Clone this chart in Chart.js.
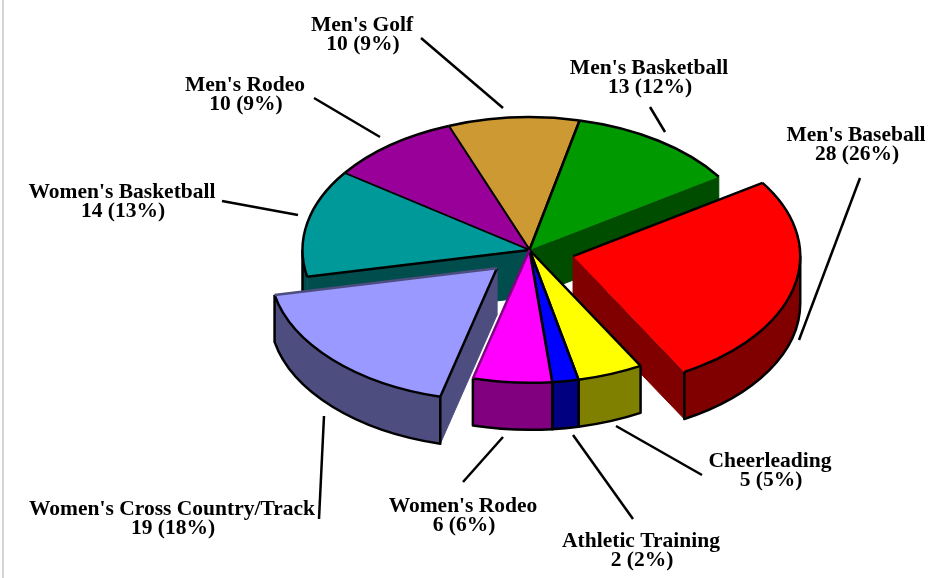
<!DOCTYPE html>
<html>
<head>
<meta charset="utf-8">
<title>Athletes by sport</title>
<script src="https://cdn.jsdelivr.net/npm/chart.js@4"></script>
<style>
body { margin: 0; background: #fff; }
#frame { position: absolute; left: 2px; top: 0; width: 2px; height: 578px; background: #d4d4d4; }
#pie { position: absolute; left: 0; top: 0; display: block; }
</style>
</head>
<body>
<div id="frame"></div>
<canvas id="pie" width="939" height="578"></canvas>
<script>
const categories = ["Men's Baseball", "Cheerleading", "Athletic Training", "Women's Rodeo",
    "Women's Cross Country/Track", "Women's Basketball", "Men's Rodeo", "Men's Golf", "Men's Basketball"];
const athletes = [28, 5, 2, 6, 19, 14, 10, 10, 13];

const topColors = ['#FF0000', '#FFFF00', '#0000FF', '#FF00FF', '#9999FF', '#009999', '#990099', '#CC9933', '#009900'];
const wallColors = ['#800000', '#808000', '#000080', '#800080', '#4D4D80', '#004D4D', '#4D004D', '#664D1A', '#004D00'];

// edge colours of each top face: [first radius, second radius], clockwise
const edgeColors = [['#000', null], ['#000', '#000'], ['#000', '#000'], ['#000', '#800080'], ['#000', '#4D4D80'],
    ['#000', '#000'], ['#000', '#000'], ['#000', '#000'], ['#000', null]];

const total = athletes.reduce((a, b) => a + b, 0);

// pulled out slices, back to front drawing order
const explode = { 0: 45, 4: 45 };
const drawOrder = [7, 6, 8, 5, 0, 4, 1, 2, 3];
const squash = 0.585;
const depth = 47;

// label centre and leader line for each category
const labelLayout = [
    { x: 856, y: 135, line: [860, 178, 799, 340] },
    { x: 770, y: 461, line: [702, 475, 616, 426] },
    { x: 641, y: 541, line: [633, 519, 573, 435] },
    { x: 463, y: 506, line: [463, 482, 503, 437] },
    { x: 172, y: 509, line: [319, 519, 324, 416] },
    { x: 122, y: 192, line: [222, 201, 298, 215] },
    { x: 245, y: 85, line: [314, 98, 380, 137] },
    { x: 362, y: 25, line: [421, 38, 503, 108] },
    { x: 649, y: 68, line: [650, 107, 665, 132] }
];

function wallRange(a0, a1, base) {
    // part of [a0, a1] on the front half of the ellipse, base is 0 or 2 PI
    const from = Math.max(a0, base);
    const to = Math.min(a1, base + Math.PI);
    return to > from ? [from, to] : null;
}

const pie3d = {
    id: 'pie3d',
    beforeDatasetsDraw(chart) {
        const ctx = chart.ctx;
        const arcs = chart.getDatasetMeta(0).data;
        ctx.lineJoin = 'round';
        ctx.lineCap = 'butt';

        drawOrder.forEach(i => {
            const arc = arcs[i];
            const r = arc.outerRadius;
            const mid = (arc.startAngle + arc.endAngle) / 2;
            const off = explode[i] || 0;
            const cx = arc.x + off * Math.cos(mid);
            const cy = arc.y + off * Math.sin(mid) * squash;
            const px = a => cx + r * Math.cos(a);
            const py = a => cy + r * Math.sin(a) * squash;

            // flat sides, only seen where the slice is not covered by its own top
            ctx.fillStyle = wallColors[i];
            ctx.strokeStyle = wallColors[i];
            ctx.lineWidth = 1;
            [arc.startAngle, arc.endAngle].forEach(a => {
                ctx.beginPath();
                ctx.moveTo(cx, cy);
                ctx.lineTo(px(a), py(a));
                ctx.lineTo(px(a), py(a) + depth);
                ctx.lineTo(cx, cy + depth);
                ctx.closePath();
                ctx.fill();
                ctx.stroke();
            });

            // outer curved wall
            [0, Math.PI * 2].forEach(base => {
                const range = wallRange(arc.startAngle, arc.endAngle, base);
                if (!range) return;
                ctx.beginPath();
                ctx.ellipse(cx, cy, r, r * squash, 0, range[0], range[1]);
                ctx.lineTo(px(range[1]), py(range[1]) + depth);
                ctx.ellipse(cx, cy + depth, r, r * squash, 0, range[1], range[0], true);
                ctx.closePath();
                ctx.fillStyle = wallColors[i];
                ctx.fill();
                // teal wall has no black corner on its inner end
                ctx.strokeStyle = '#000';
                ctx.lineWidth = 2.5;
                ctx.beginPath();
                if (i !== 5) {
                    ctx.moveTo(px(range[0]), py(range[0]));
                    ctx.lineTo(px(range[0]), py(range[0]) + depth);
                } else {
                    ctx.moveTo(px(range[0]), py(range[0]) + depth);
                }
                ctx.ellipse(cx, cy + depth, r, r * squash, 0, range[0], range[1]);
                ctx.lineTo(px(range[1]), py(range[1]));
                ctx.stroke();
            });

            // top face, drawn by the arc element itself
            ctx.save();
            ctx.translate(cx, cy);
            ctx.scale(1, squash);
            ctx.translate(-arc.x, -arc.y);
            arc.draw(ctx);
            ctx.restore();

            // outline of the top face
            ctx.strokeStyle = '#000';
            ctx.lineWidth = 2.5;
            ctx.beginPath();
            ctx.ellipse(cx, cy, r, r * squash, 0, arc.startAngle, arc.endAngle);
            ctx.stroke();
            [arc.startAngle, arc.endAngle].forEach((a, k) => {
                if (!edgeColors[i][k]) return;
                ctx.strokeStyle = edgeColors[i][k];
                // the dividers on the far left are finer
                ctx.lineWidth = (i === 5 && k === 1) || i === 6 ? 1.5 : 2.5;
                ctx.beginPath();
                ctx.moveTo(cx, cy);
                ctx.lineTo(px(a), py(a));
                ctx.stroke();
            });
        });
        return false;
    },
    afterDraw(chart) {
        const ctx = chart.ctx;
        ctx.strokeStyle = '#000';
        ctx.lineWidth = 2.5;
        ctx.fillStyle = '#000';
        ctx.font = 'bold 21.5px "Liberation Serif"';
        ctx.textAlign = 'center';
        ctx.textBaseline = 'middle';
        categories.forEach((name, i) => {
            const l = labelLayout[i];
            ctx.beginPath();
            ctx.moveTo(l.line[0], l.line[1]);
            ctx.lineTo(l.line[2], l.line[3]);
            ctx.stroke();
            ctx.fillText(name, l.x, l.y);
            ctx.fillText(athletes[i] + ' (' + Math.round(athletes[i] / total * 100) + '%)', l.x + 1, l.y + 19.5);
        });
    }
};

new Chart(document.getElementById('pie').getContext('2d'), {
    type: 'pie',
    data: {
        labels: categories,
        datasets: [{
            data: athletes,
            backgroundColor: topColors,
            borderWidth: 0
        }]
    },
    options: {
        responsive: false,
        animation: false,
        rotation: 56.5,
        layout: { padding: { left: 302.5, right: 182.5, top: 23, bottom: 101 } },
        plugins: { legend: { display: false }, tooltip: { enabled: false } }
    },
    plugins: [pie3d]
});
</script>
</body>
</html>
